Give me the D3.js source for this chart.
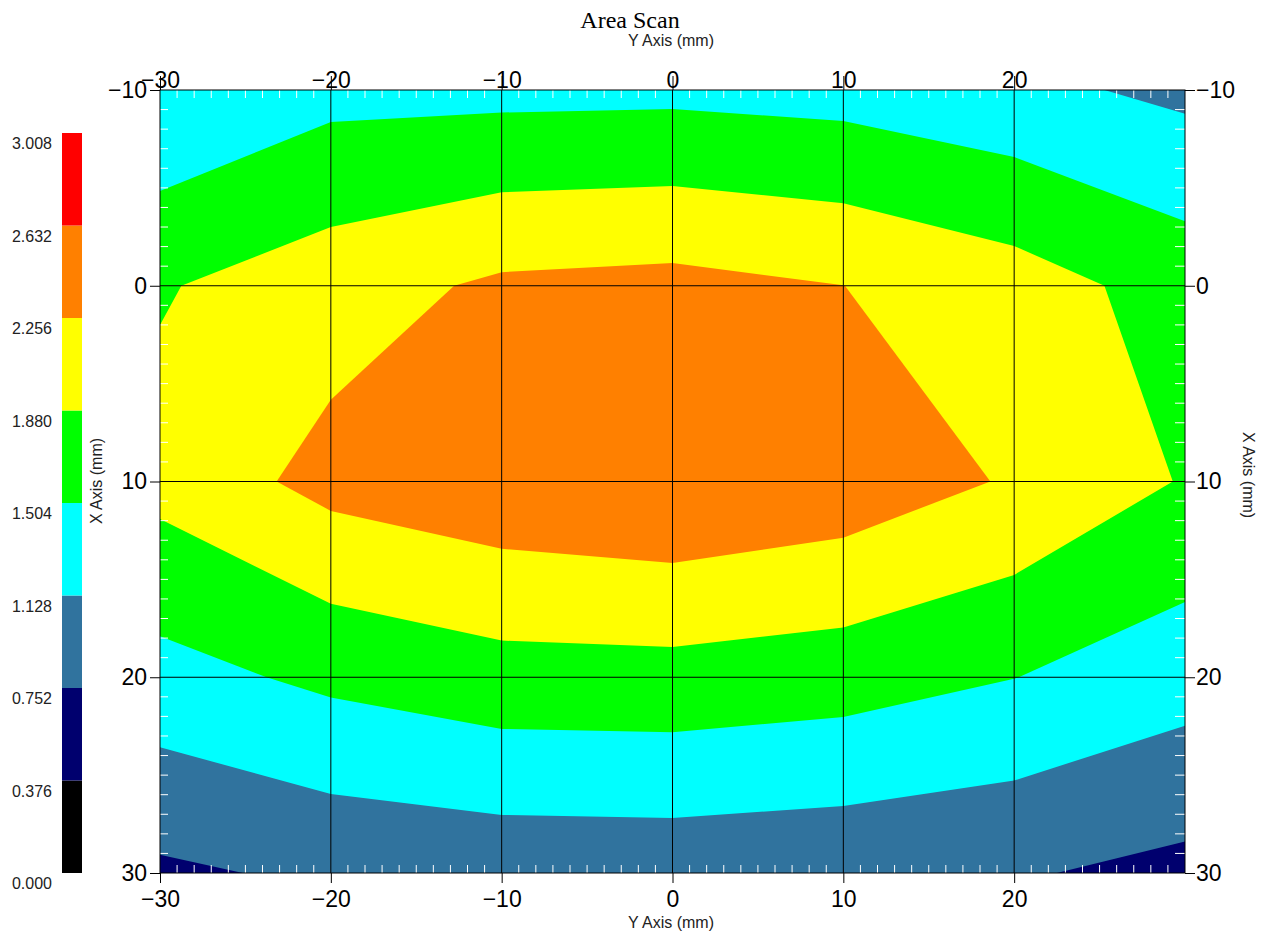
<!DOCTYPE html>
<html><head><meta charset="utf-8">
<script src="https://cdn.jsdelivr.net/npm/d3@7"></script>
<style>body{margin:0;background:#fff}svg{display:block}</style>
</head><body>
<svg id="chart" width="1265" height="935"></svg>
<script>
// Grid sample positions (mm)
const yAxisPositions = [-30, -20, -10, 0, 10, 20, 30];   // horizontal axis ("Y Axis")
const xAxisPositions = [-10, 0, 10, 20, 30];             // vertical axis ("X Axis")
// Measured values, one row per X position
const rowXm10 = [1.135, 1.389, 1.398, 1.411, 1.362, 1.221, 1.045];
const rowX0   = [1.850, 2.090, 2.320, 2.367, 2.258, 2.048, 1.730];
const rowX10  = [2.000, 2.375, 2.531, 2.620, 2.491, 2.218, 1.854];
const rowX20  = [1.373, 1.583, 1.730, 1.745, 1.672, 1.510, 1.285];
const rowX30  = [0.688, 0.820, 0.874, 0.887, 0.845, 0.786, 0.650];
// Contour levels and colours
const levels = [0, 0.376, 0.752, 1.128, 1.504, 1.880, 2.256, 2.632, 3.008];
const levelLabels = ["0.000", "0.376", "0.752", "1.128", "1.504", "1.880", "2.256", "2.632", "3.008"];
const bandColors = ["#000000", "#00006e", "#30739e", "#00ffff", "#00ff00", "#ffff00", "#ff8000", "#ff0000"];
// Tick labels
const horizTicks = [-30, -20, -10, 0, 10, 20];
const vertTicks = [-10, 0, 10, 20, 30];

const svg = d3.select("#chart");
const L = 160, R = 1185, T = 90, B = 873;
const x = d3.scaleLinear().domain([-30, 30]).range([L, R]);
const y = d3.scaleLinear().domain([-10, 30]).range([T, B]);
const font = "'Liberation Sans', Arial, sans-serif";

svg.append("defs").append("clipPath").attr("id", "plotclip")
  .append("rect").attr("x", L).attr("y", T).attr("width", R - L).attr("height", B - T);

// contours
const rows = [rowXm10, rowX0, rowX10, rowX20, rowX30];
const nx = yAxisPositions.length, ny = xAxisPositions.length;
const values = rows.flat();
const stepY = yAxisPositions[1] - yAxisPositions[0];
const stepX = xAxisPositions[1] - xAxisPositions[0];
const contours = d3.contours().size([nx, ny]).thresholds(levels.slice(0, 8))(values);
const proj = d3.geoTransform({
  point: function(gx, gy) {
    this.stream.point(x(yAxisPositions[0] + (gx - 0.5) * stepY), y(xAxisPositions[0] + (gy - 0.5) * stepX));
  }
});
const path = d3.geoPath(proj);
const colorOf = d3.scaleThreshold().domain(levels.slice(1, 8)).range(bandColors);
svg.append("g").attr("clip-path", "url(#plotclip)")
  .selectAll("path").data(contours).join("path")
  .attr("d", path)
  .attr("fill", d => colorOf(d.value + 1e-9))
  .attr("stroke", "none");

// minor ticks (white, inward)
const minorH = d3.range(-29, 30).filter(v => v % 10 !== 0);
const minorV = d3.range(-9, 30).filter(v => v % 10 !== 0);
const mg = svg.append("g").attr("stroke", "#ffffff").attr("stroke-width", 1);
mg.selectAll(".mt").data(minorH).join("line")
  .attr("x1", d => x(d)).attr("x2", d => x(d)).attr("y1", T).attr("y2", T + 8);
mg.selectAll(".mb").data(minorH).join("line")
  .attr("x1", d => x(d)).attr("x2", d => x(d)).attr("y1", B).attr("y2", B - 8);
mg.selectAll(".ml").data(minorV).join("line")
  .attr("y1", d => y(d)).attr("y2", d => y(d)).attr("x1", L).attr("x2", L + 8);
mg.selectAll(".mr").data(minorV).join("line")
  .attr("y1", d => y(d)).attr("y2", d => y(d)).attr("x1", R).attr("x2", R - 10);

// grid lines
const gg = svg.append("g").attr("stroke", "#000").attr("stroke-width", 1);
gg.selectAll(".gv").data(horizTicks.filter(d => d > -30)).join("line")
  .attr("x1", d => x(d)).attr("x2", d => x(d)).attr("y1", T).attr("y2", B);
gg.selectAll(".gh").data(vertTicks.filter(d => d > -10 && d < 30)).join("line")
  .attr("y1", d => y(d)).attr("y2", d => y(d)).attr("x1", L).attr("x2", R);

// frame
svg.append("rect").attr("x", L).attr("y", T).attr("width", R - L).attr("height", B - T)
  .attr("fill", "none").attr("stroke", "#000").attr("stroke-width", 1);

function styleAxis(g) {
  g.select(".domain").remove();
  g.selectAll("line").attr("stroke", "#000");
  g.selectAll("text").attr("font-family", font).attr("font-size", "23px").attr("fill", "#000");
}
const fmt = d3.format("d");
svg.append("g").attr("transform", `translate(0,${B})`)
  .call(d3.axisBottom(x).tickValues(horizTicks).tickSize(10).tickPadding(8).tickFormat(fmt)).call(styleAxis);
svg.append("g").attr("transform", `translate(0,${T})`)
  .call(d3.axisTop(x).tickValues(horizTicks).tickSize(14).tickPadding(-12).tickFormat(fmt)).call(styleAxis);
svg.append("g").attr("transform", `translate(${L},0)`)
  .call(d3.axisLeft(y).tickValues(vertTicks).tickSize(10).tickPadding(3).tickFormat(fmt)).call(styleAxis);
svg.append("g").attr("transform", `translate(${R},0)`)
  .call(d3.axisRight(y).tickValues(vertTicks).tickSize(10).tickPadding(1).tickFormat(fmt)).call(styleAxis);

// titles
svg.append("text").attr("x", 630).attr("y", 28).attr("text-anchor", "middle")
  .attr("font-family", "'Liberation Serif', 'Times New Roman', serif").attr("font-size", "24px").attr("fill", "#000")
  .text("Area Scan");
svg.append("text").attr("x", 671).attr("y", 46).attr("text-anchor", "middle")
  .attr("font-family", font).attr("font-size", "16px").attr("fill", "#222").text("Y Axis (mm)");
svg.append("text").attr("x", 671).attr("y", 928).attr("text-anchor", "middle")
  .attr("font-family", font).attr("font-size", "16px").attr("fill", "#222").text("Y Axis (mm)");
svg.append("text").attr("transform", "translate(102,481) rotate(-90)").attr("text-anchor", "middle")
  .attr("font-family", font).attr("font-size", "16px").attr("fill", "#222").text("X Axis (mm)");
svg.append("text").attr("transform", "translate(1243,475) rotate(90)").attr("text-anchor", "middle")
  .attr("font-family", font).attr("font-size", "16px").attr("fill", "#222").text("X Axis (mm)");

// colour bar
const cb = d3.scaleLinear().domain([levels[0], levels[levels.length - 1]]).range([873, 133]);
const bands = d3.range(bandColors.length).map(i => ({lo: levels[i], hi: levels[i + 1], c: bandColors[i]}));
svg.append("g").selectAll("rect").data(bands).join("rect")
  .attr("x", 62).attr("width", 20)
  .attr("y", d => cb(d.hi)).attr("height", d => cb(d.lo) - cb(d.hi))
  .attr("fill", d => d.c);
svg.append("g").selectAll("text").data(levels).join("text")
  .attr("x", 52).attr("y", d => cb(d) + 16).attr("text-anchor", "end")
  .attr("font-family", font).attr("font-size", "16px").attr("fill", "#222")
  .text((d, i) => levelLabels[i]);
</script>
</body></html>
